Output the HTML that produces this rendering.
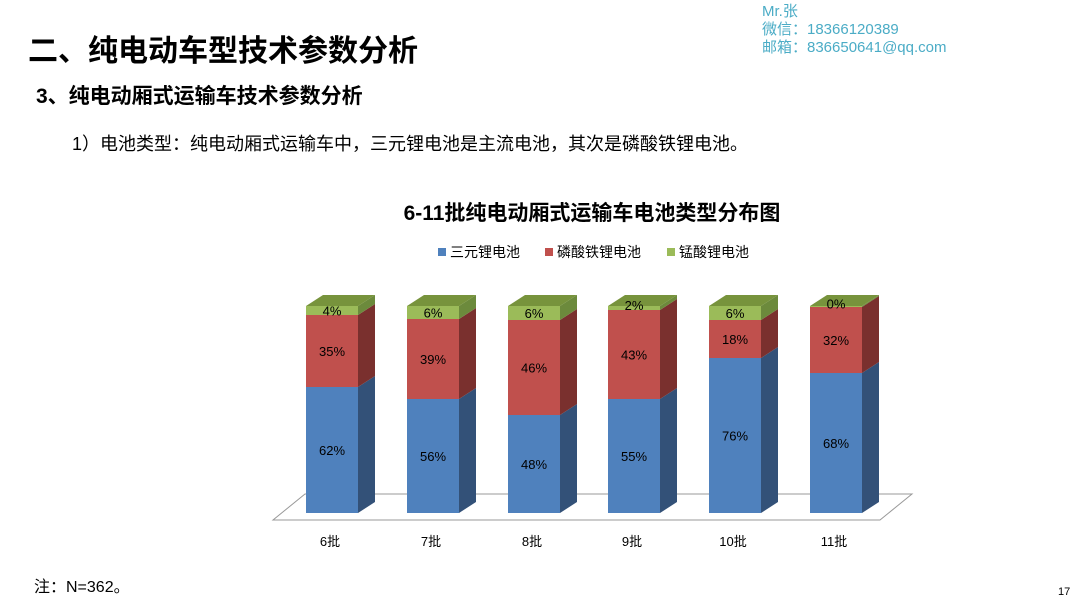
<!DOCTYPE html>
<html><head><meta charset="utf-8"><style>
body{margin:0;width:1080px;height:609px;background:#fff;overflow:hidden;position:relative;font-family:"Liberation Sans","Noto Sans CJK SC",sans-serif}
.t{position:absolute;white-space:nowrap}
</style></head><body>
<div class="t" style="left:28px;top:26px;font-size:30px;font-weight:bold;color:#000">二、纯电动车型技术参数分析</div>
<div class="t" style="left:36px;top:80px;font-size:21px;font-weight:bold;color:#000">3、纯电动厢式运输车技术参数分析</div>
<div class="t" style="left:72px;top:130px;font-size:18px;color:#000">1）电池类型：纯电动厢式运输车中，三元锂电池是主流电池，其次是磷酸铁锂电池。</div>
<div class="t" style="left:762px;top:3px;font-size:15px;line-height:18px;color:#4bacc6">Mr.张<br>微信：18366120389<br>邮箱：836650641@qq.com</div>
<div class="t" style="left:34px;top:573px;font-size:16px;color:#000">注：N=362。</div>
<div class="t" style="left:1058px;top:586px;font-size:11px;color:#000">17</div>
<svg width="1080" height="609" style="position:absolute;left:0;top:0" font-family="Liberation Sans,Noto Sans CJK SC,sans-serif">
<text x="592" y="220" text-anchor="middle" font-size="21" font-weight="bold" fill="#000">6-11批纯电动厢式运输车电池类型分布图</text>
<rect x="438" y="248" width="8" height="8" fill="#4f81bd"/><text x="450" y="257" font-size="14" fill="#000">三元锂电池</text>
<rect x="545" y="248" width="8" height="8" fill="#c0504d"/><text x="557" y="257" font-size="14" fill="#000">磷酸铁锂电池</text>
<rect x="667" y="248" width="8" height="8" fill="#9bbb59"/><text x="679" y="257" font-size="14" fill="#000">锰酸锂电池</text>
<polygon points="273,520 880,520 912,494 305,494" fill="#fff" stroke="#999" stroke-width="1"/>
<g id="bars"></g>
</svg>
<script>
var d=[[306,387,315,306,"62%","35%","4%","6批"],[407,399,319,306,"56%","39%","6%","7批"],[508,415,320,306,"48%","46%","6%","8批"],[608,399,310,306,"55%","43%","2%","9批"],[709,358,320,306,"76%","18%","6%","10批"],[810,373,307,306,"68%","32%","0%","11批"]];
var W=52,B=513,dx=17,dy=-11,s="";
function seg(x,y1,y2,f,sd){return '<rect x="'+x+'" y="'+y2+'" width="'+W+'" height="'+(y1-y2)+'" fill="'+f+'"/><polygon points="'+(x+W)+','+y1+' '+(x+W+dx)+','+(y1+dy)+' '+(x+W+dx)+','+(y2+dy)+' '+(x+W)+','+y2+'" fill="'+sd+'"/>';}
d.forEach(function(b){var x=b[0];
s+=seg(x,B,b[1],"#4f81bd","#335178");
s+=seg(x,b[1],b[2],"#c0504d","#7a302e");
s+=seg(x,b[2],b[3],"#9bbb59","#6c8a3c");
s+='<polygon points="'+x+','+b[3]+' '+(x+W)+','+b[3]+' '+(x+W+dx)+','+(b[3]+dy)+' '+(x+dx)+','+(b[3]+dy)+'" fill="#77933c"/>';
var c=x+W/2;
s+='<text x="'+c+'" y="'+((B+b[1])/2+5)+'" text-anchor="middle" font-size="13" fill="#000">'+b[4]+'</text>';
s+='<text x="'+c+'" y="'+((b[1]+b[2])/2+5)+'" text-anchor="middle" font-size="13" fill="#000">'+b[5]+'</text>';
s+='<text x="'+c+'" y="'+((b[2]+b[3])/2+5+(b[2]-b[3]<8?-3:0))+'" text-anchor="middle" font-size="13" fill="#000">'+b[6]+'</text>';
s+='<text x="'+(c-2)+'" y="546" text-anchor="middle" font-size="13" fill="#000">'+b[7]+'</text>';});
document.getElementById("bars").innerHTML=s;
</script>
</body></html>
